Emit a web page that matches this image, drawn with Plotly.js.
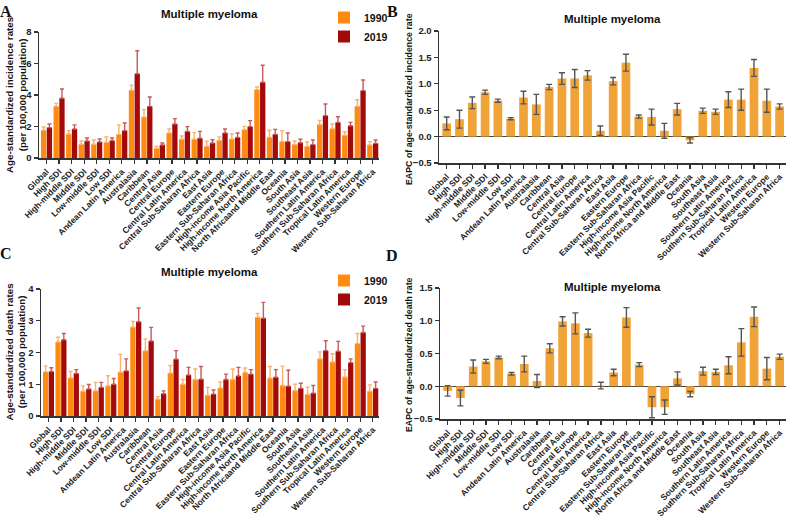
<!DOCTYPE html>
<html><head><meta charset="utf-8">
<script src="https://cdn.plot.ly/plotly-3.0.1.min.js"></script>
<style>body{margin:0;background:#fff}#chart{width:788px;height:517px}</style>
</head><body><div id="chart"></div><script>
const categoriesAC = ["Global","High SDI","High-middle SDI","Middle SDI","Low-middle SDI","Low SDI","Andean Latin America","Australasia","Caribbean","Central Asia","Central Europe","Central Latin America","Central Sub-Saharan Africa","East Asia","Eastern Europe","Eastern Sub-Saharan Africa","High-income Asia Pacific","High-income North America","North Africaand Middle East","Oceania","South Asia","Southeast Asia","Southern Latin America","Southern Sub-Saharan Africa","Tropical Latin America","Western Europe","Western Sub-Saharan Africa"];
const categoriesBD = ["Global","High SDI","High-middle SDI","Middle SDI","Low-middle SDI","Low SDI","Andean Latin America","Australasia","Caribbean","Central Asia","Central Europe","Central Latin America","Central Sub-Saharan Africa","East Asia","Eastern Europe","Eastern Sub-Saharan Africa","High-income Asia Pacific","High-income North America","North Africa and Middle East","Oceania","South Asia","Southeast Asia","Southern Latin America","Southern Sub-Saharan Africa","Tropical Latin America","Western Europe","Western Sub-Saharan Africa"];

// Panel A: age-standardized incidence rate (per 100,000)
const incidence1990 = [1.76,3.28,1.52,0.87,0.87,0.99,1.50,4.30,2.60,0.61,1.59,1.19,1.19,0.74,1.12,1.21,1.80,4.34,1.31,1.04,0.85,0.74,2.12,1.86,1.44,3.28,0.83];
const incidence1990Upper = [1.97,3.47,1.74,1.08,1.14,1.33,2.10,4.63,3.07,0.74,1.84,1.40,1.61,1.06,1.33,1.52,2.01,4.51,1.76,1.74,1.08,1.02,2.39,2.16,1.67,3.70,1.04];
const incidence2019 = [1.93,3.79,1.84,1.08,1.02,1.10,1.74,5.35,3.28,0.83,2.16,1.69,1.25,0.95,1.59,1.31,1.99,4.81,1.50,1.04,0.97,0.85,2.69,2.26,2.05,4.28,0.93];
const incidence2019Upper = [2.16,4.38,2.10,1.27,1.21,1.27,2.22,6.81,3.87,0.95,2.50,1.99,1.69,1.16,1.84,1.59,2.37,5.89,1.82,1.59,1.19,1.14,3.43,2.62,2.26,4.95,1.14];

// Panel B: EAPC of age-standardized incidence rate
const incidenceEAPC = [0.25,0.33,0.64,0.84,0.68,0.34,0.74,0.61,0.94,1.10,1.10,1.16,0.11,1.05,1.40,0.38,0.37,0.11,0.52,-0.07,0.49,0.47,0.70,0.70,1.30,0.68,0.57];
const incidenceEAPCci = [0.12,0.17,0.11,0.04,0.03,0.02,0.12,0.19,0.05,0.11,0.17,0.09,0.09,0.07,0.16,0.03,0.15,0.14,0.11,0.05,0.05,0.05,0.15,0.20,0.16,0.22,0.05];

// Panel C: age-standardized death rate (per 100,000)
const death1990 = [1.39,2.33,1.20,0.78,0.79,0.95,1.38,2.80,2.05,0.53,1.35,1.00,1.15,0.65,0.88,1.15,1.37,3.11,1.19,0.96,0.80,0.68,1.80,1.70,1.23,2.28,0.78];
const death1990Upper = [1.58,2.48,1.40,0.95,1.06,1.27,1.94,2.98,2.43,0.61,1.59,1.15,1.48,0.90,1.07,1.48,1.51,3.23,1.56,1.57,1.00,0.91,2.02,1.96,1.46,2.60,0.98];
const death2019 = [1.40,2.40,1.34,0.85,0.90,1.00,1.42,2.97,2.36,0.70,1.79,1.29,1.16,0.69,1.15,1.26,1.32,3.08,1.22,0.94,0.87,0.72,2.06,2.04,1.68,2.63,0.87];
const death2019Upper = [1.52,2.60,1.46,0.99,1.06,1.18,1.80,3.40,2.79,0.79,2.06,1.53,1.56,0.82,1.32,1.53,1.46,3.58,1.46,1.44,1.03,0.96,2.37,2.35,1.80,2.83,1.07];

// Panel D: EAPC of age-standardized death rate
const deathEAPC = [-0.07,-0.18,0.30,0.38,0.44,0.19,0.34,0.08,0.58,0.99,0.96,0.81,0.01,0.21,1.05,0.33,-0.32,-0.32,0.12,-0.12,0.23,0.22,0.32,0.67,1.06,0.27,0.45];
const deathEAPCci = [0.08,0.12,0.10,0.03,0.02,0.02,0.12,0.10,0.07,0.07,0.16,0.06,0.05,0.05,0.15,0.03,0.16,0.11,0.10,0.04,0.06,0.04,0.13,0.21,0.15,0.17,0.04];

const C1990 = '#FF8A12', C2019 = '#A30A0A', E1990 = '#F7B26E', E2019 = '#C75A5A', CEAPC = '#F0A337', EEAPC = '#555555';
const FONT = 'Liberation Sans, Arial, sans-serif';
const diff = (u, v) => u.map((x, i) => +(x - v[i]).toFixed(3));
const zeros = n => new Array(n).fill(0);

function rateTrace(cats, vals, upper, color, ecolor, name, xa, ya, legend, showlegend) {
  return {type:'bar', x:cats, y:vals, name:name, xaxis:xa, yaxis:ya, legend:legend, showlegend:showlegend,
    marker:{color:color, line:{width:0}},
    error_y:{type:'data', symmetric:false, array:diff(upper, vals), arrayminus:zeros(vals.length), color:ecolor, thickness:1.4, width:2}};
}
function eapcTrace(cats, vals, ci, xa, ya) {
  return {type:'bar', x:cats, y:vals, xaxis:xa, yaxis:ya, showlegend:false, width:0.68,
    marker:{color:CEAPC, line:{width:0}},
    error_y:{type:'data', array:ci, color:EEAPC, thickness:1.4, width:3}};
}

const data = [
  rateTrace(categoriesAC, incidence1990, incidence1990Upper, C1990, E1990, '1990', 'x', 'y', 'legend', true),
  rateTrace(categoriesAC, incidence2019, incidence2019Upper, C2019, E2019, '2019', 'x', 'y', 'legend', true),
  eapcTrace(categoriesBD, incidenceEAPC, incidenceEAPCci, 'x2', 'y2'),
  rateTrace(categoriesAC, death1990, death1990Upper, C1990, E1990, '1990', 'x3', 'y3', 'legend2', true),
  rateTrace(categoriesAC, death2019, death2019Upper, C2019, E2019, '2019', 'x3', 'y3', 'legend2', true),
  eapcTrace(categoriesBD, deathEAPC, deathEAPCci, 'x4', 'y4')
];

const tickF = {family:FONT, size:8.5, color:'#222', weight:'bold'};
const ytickF = {family:FONT, size:9.5, color:'#222', weight:'bold'};
function xax(domain, anchor) {
  return {domain:domain, anchor:anchor, type:'category', range:[-0.6, 26.5], showline:true, linecolor:'#333', linewidth:1.5,
    ticks:'outside', ticklen:4, tickwidth:1.3, tickcolor:'#333', tickangle:-45, tickfont:tickF, showgrid:false, zeroline:false, fixedrange:true};
}
function yax(domain, anchor, range, dtick, fmt, zl) {
  return {domain:domain, anchor:anchor, range:range, dtick:dtick, tickformat:fmt, showline:true, linecolor:'#333', linewidth:1.5,
    ticks:'outside', ticklen:4, tickwidth:1.3, tickcolor:'#333', tickfont:ytickF, showgrid:false,
    zeroline:zl, zerolinecolor:'#444', zerolinewidth:1.5, fixedrange:true};
}
const H = 517, W = 788;
const py = p => 1 - p / H, px = p => p / W;

const titleF = {family:FONT, size:11.5, color:'#111', weight:'bold'};
const axTitleF = {family:FONT, size:9.8, color:'#111', weight:'bold'};
const eapcTitleF = {family:FONT, size:8.8, color:'#111', weight:'bold'};
const letterF = {family:'Liberation Serif, Times New Roman, serif', size:16, color:'#111', weight:'bold'};
const legendF = {family:FONT, size:10.5, color:'#111', weight:'bold'};
function ann(text, x, y, font, extra) {
  return Object.assign({text:text, x:x, y:y, xref:'paper', yref:'paper', showarrow:false, font:font, xanchor:'center', yanchor:'middle'}, extra || {});
}

const layout = {
  width:W, height:H, margin:{l:0, r:0, t:0, b:0}, paper_bgcolor:'#fff', plot_bgcolor:'#fff',
  barmode:'group', bargap:0.08, bargroupgap:0.08,
  xaxis: xax([px(39), px(379)], 'y'),
  yaxis: yax([py(158), py(32)], 'x', [0, 8], 2, '', false),
  xaxis2: xax([px(439), px(786)], 'y2'),
  yaxis2: yax([py(163), py(31)], 'x2', [-0.5, 2], 0.5, '.1f', true),
  xaxis3: xax([px(41), px(379)], 'y3'),
  yaxis3: yax([py(416), py(289)], 'x3', [0, 4], 1, '', false),
  xaxis4: xax([px(440), px(786)], 'y4'),
  yaxis4: yax([py(419), py(288)], 'x4', [-0.5, 1.5], 0.5, '.1f', true),
  legend: {x:px(324), y:py(3), xanchor:'left', yanchor:'top', bgcolor:'rgba(0,0,0,0)', font:legendF, itemwidth:30, tracegroupgap:0},
  legend2: {x:px(324), y:py(266), xanchor:'left', yanchor:'top', bgcolor:'rgba(0,0,0,0)', font:legendF, itemwidth:30, tracegroupgap:0},
  annotations: [
    ann('A', px(6), py(1), letterF, {yanchor:'top'}),
    ann('B', px(392), py(1), letterF, {yanchor:'top'}),
    ann('C', px(6), py(254), letterF),
    ann('D', px(392), py(255), letterF),
    ann('Multiple myeloma', px(209), py(14), titleF),
    ann('Multiple myeloma', px(612), py(19), titleF),
    ann('Multiple myeloma', px(209), py(272), titleF),
    ann('Multiple myeloma', px(612), py(287), titleF),
    ann('Age-standardized incidence rates<br>(per 100,000 population)', px(16), py(95), axTitleF, {textangle:-90}),
    ann('EAPC of age-standardized incidence rate', px(409), py(99), eapcTitleF, {textangle:-90}),
    ann('Age-standardized death rates<br>(per 100,000 population)', px(15.5), py(352), axTitleF, {textangle:-90}),
    ann('EAPC of age-standardized death rate', px(409), py(355), eapcTitleF, {textangle:-90})
  ]
};

Plotly.newPlot('chart', data, layout, {staticPlot:true, displayModeBar:false});
</script></body></html>
